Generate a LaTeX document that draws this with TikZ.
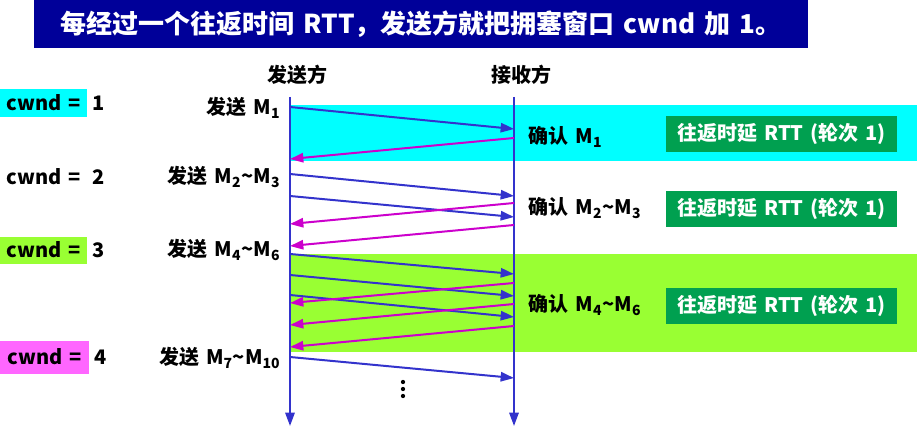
\documentclass[tikz,border=0pt]{standalone}
\usepackage{fontspec}
\setmainfont{Noto Sans CJK SC}[WordSpace=1.5]
\usetikzlibrary{arrows.meta,positioning}

\definecolor{titleBlue}{RGB}{0,0,153}
\definecolor{lineBlue}{RGB}{51,51,204}
\definecolor{ackPurple}{RGB}{204,0,204}
\definecolor{bandCyan}{RGB}{0,255,255}
\definecolor{bandGreen}{RGB}{153,255,51}
\definecolor{rttGreen}{RGB}{0,160,80}
\definecolor{markPink}{RGB}{255,102,255}

\newcommand{\Msub}[1]{M\textsubscript{#1}}

\begin{document}
\begin{tikzpicture}[x=0.75pt, y=-0.75pt,
    font=\fontsize{15}{17}\selectfont\bfseries,
    sendArrow/.style={draw=lineBlue, line width=1.5pt, -{Triangle[length=10pt, width=7pt]}},
    ackArrow/.style={draw=ackPurple, line width=1.5pt, -{Triangle[length=10pt, width=7pt]}},
    cwndBox/.style={anchor=west, minimum width=65.25pt, minimum height=20.25pt, inner sep=0pt},
    rttBox/.style={fill=rttGreen, text=white, minimum width=173.25pt, minimum height=27pt, inner sep=0pt}]
    % Fix the size of the picture
    \useasboundingbox (0,0) rectangle (917,428);

    % Title bar
    \node[fill=titleBlue, text=white, minimum width=580.5pt, minimum height=36pt, inner sep=0pt,
      font=\fontsize{19.5}{22}\selectfont\bfseries] (title) at (421,24)
      {每经过一个往返时间 RTT，发送方就把拥塞窗口 cwnd 加 1。};

    % Coloured bands for the first and third round
    \fill[bandCyan] (290,105) rectangle (917,161);
    \fill[bandGreen] (290,254) rectangle (917,352);

    % Time lines of sender and receiver
    \coordinate (senderTop) at (290,97);
    \coordinate (senderBottom) at (290,426);
    \coordinate (receiverTop) at (514,97);
    \coordinate (receiverBottom) at (514,426);
    \draw[sendArrow] (senderTop) -- (senderBottom);
    \draw[sendArrow] (receiverTop) -- (receiverBottom);

    \node (sender) at (297,75) {发送方};
    \node (receiver) at (521,75) {接收方};

    % Segments sent
    \foreach \ya/\yb [count=\i] in {107/129, 174/196, 196/217, 254/274, 275/296, 295/317, 357/378} {
      \coordinate (out\i) at (290,\ya);
      \coordinate (in\i) at (514,\yb);
      \draw[sendArrow] (out\i) -- (in\i);
    }

    % Acknowledgements
    \foreach \ya/\yb [count=\i] in {138/159, 203/224, 225/246, 283/303, 304/325, 326/347} {
      \coordinate (ackOut\i) at (514,\ya);
      \coordinate (ackIn\i) at (290,\yb);
      \draw[ackArrow] (ackOut\i) -- (ackIn\i);
    }

    % More segments follow
    \foreach \y in {382, 389, 396}
      \fill (403,\y) circle (1.6pt);

    % Window sizes on the left
    \node[cwndBox, fill=bandCyan] (cwndOne) at (0,103) {cwnd =};
    \node[right=0pt of cwndOne] (numOne) {1};
    \node[cwndBox] (cwndTwo) at (0,177) {cwnd =};
    \node[right=0pt of cwndTwo] (numTwo) {2};
    \node[cwndBox, fill=bandGreen] (cwndThree) at (0,250) {cwnd =};
    \node[right=0pt of cwndThree] (numThree) {3};
    \node[cwndBox, fill=markPink, minimum width=66.75pt, minimum height=24.75pt] (cwndFour) at (0,357) {cwnd =};
    \node[right=0pt of cwndFour] (numFour) {4};

    % Sender labels
    \node[anchor=east] (sendOne) at (285,108) {发送 \Msub{1}};
    \node[anchor=east] (sendTwo) at (285,177) {发送 \Msub{2}\textasciitilde\Msub{3}};
    \node[anchor=east] (sendThree) at (285,250) {发送 \Msub{4}\textasciitilde\Msub{6}};
    \node[anchor=east] (sendFour) at (285,358) {发送 \Msub{7}\textasciitilde\Msub{10}};

    % Receiver labels
    \node[anchor=west] (ackOne) at (524,137) {确认 \Msub{1}};
    \node[anchor=west] (ackTwo) at (524,208) {确认 \Msub{2}\textasciitilde\Msub{3}};
    \node[anchor=west] (ackThree) at (524,305) {确认 \Msub{4}\textasciitilde\Msub{6}};

    % Round trip boxes
    \node[rttBox] (rttOne) at (781.5,134) {往返时延 RTT (轮次 1)};
    \node[rttBox] (rttTwo) at (781.5,209) {往返时延 RTT (轮次 1)};
    \node[rttBox] (rttThree) at (781.5,305.5) {往返时延 RTT (轮次 1)};
  \end{tikzpicture}
\end{document}
